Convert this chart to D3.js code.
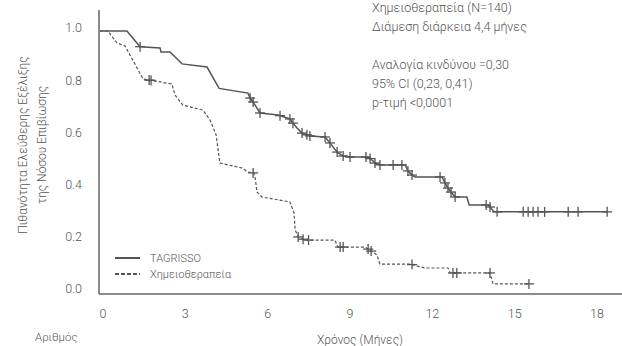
<!DOCTYPE html>
<html>
<head>
<meta charset="utf-8">
<script src="https://cdn.jsdelivr.net/npm/d3@7"></script>
<style>
  body { margin: 0; background: #fff; }
  svg text { font-family: Roboto, "Open Sans", sans-serif; font-weight: 300; fill: #555; }
</style>
</head>
<body>
<div id="chart"></div>
<script>
// Kaplan-Meier curves: [months, probability]
var tagrissoCurve = [[0,1],[0.98,1],[1.46,0.94],[2.19,0.935],[2.22,0.92],[2.55,0.92],[2.99,0.874],[3.9,0.862],
  [4.34,0.78],[5.39,0.762],[5.47,0.743],[5.58,0.728],[5.83,0.686],[6.49,0.678],[6.92,0.663],[7.03,0.647],
  [7.18,0.628],[7.36,0.609],[7.65,0.598],[8.2,0.594],[8.38,0.571],[8.49,0.556],[8.64,0.536],[8.86,0.521],
  [9.11,0.517],[9.77,0.517],[9.95,0.502],[10.02,0.494],[10.2,0.487],[11.12,0.487],[11.22,0.464],[11.37,0.448],
  [11.48,0.441],[12.46,0.441],[12.57,0.418],[12.68,0.398],[12.79,0.383],[12.94,0.364],[13.37,0.364],
  [13.45,0.333],[14.15,0.333],[14.36,0.307],[18.48,0.307]];
var tagrissoCensored = [1.46,5.47,5.58,5.83,6.56,6.92,7.03,7.36,7.54,7.65,8.2,8.38,8.64,8.86,9.11,9.69,9.84,
  10.02,10.2,10.68,11.0,11.22,11.37,12.39,12.57,12.68,12.79,12.94,14.07,14.21,14.47,15.42,15.6,15.78,15.96,
  16.2,17.06,17.42,18.48];

var chemoCurve = [[0,1],[0.29,1],[0.62,0.954],[0.91,0.943],[1.57,0.816],[2.62,0.797],[2.73,0.755],[3.02,0.716],
  [3.75,0.697],[4.01,0.659],[4.23,0.602],[4.37,0.494],[5.17,0.475],[5.39,0.46],[5.6,0.456],[5.65,0.441],
  [5.72,0.383],[5.9,0.364],[6.92,0.345],[7.07,0.303],[7.11,0.238],[7.22,0.211],[7.47,0.199],[8.56,0.199],
  [8.67,0.172],[9.66,0.172],[10.09,0.142],[10.2,0.107],[11.3,0.107],[11.84,0.092],[12.68,0.092],[12.76,0.073],
  [14.21,0.073],[14.32,0.031],[15.63,0.031]];
var chemoCensored = [1.79,1.86,5.58,7.22,7.4,7.6,8.75,8.86,9.77,9.88,11.37,12.86,13.0,14.21,15.63];

var xTicks = [0, 3, 6, 9, 12, 15, 18];
var yTicks = [0, 0.2, 0.4, 0.6, 0.8, 1.0];
var statsLines = ['Χημειοθεραπεία (N=140)', 'Διάμεση διάρκεια 4,4 μήνες', '',
  'Αναλογία κινδύνου =0,30', '95% CI (0,23, 0,41)', 'p-τιμή <0,0001'];
var legendItems = ['TAGRISSO', 'Χημειοθεραπεία'];

var width = 622, height = 346;
var svg = d3.select('#chart').append('svg')
    .attr('width', width)
    .attr('height', height);

var x = d3.scaleLinear().domain([0, 18]).range([100, 594]);
var y = d3.scaleLinear().domain([0, 1]).range([292, 31]);

// axes lines
svg.append('line').attr('x1', 99).attr('x2', 99).attr('y1', 10).attr('y2', 294)
    .attr('stroke', '#666').attr('stroke-width', 1.5);
svg.append('line').attr('x1', 99).attr('x2', width).attr('y1', 294).attr('y2', 294)
    .attr('stroke', '#666').attr('stroke-width', 1.5);

svg.selectAll('.ytick').data(yTicks).enter().append('text')
    .attr('class', 'ytick')
    .attr('x', 82)
    .attr('y', function(d){ return y(d) - 3; })
    .attr('dy', '0.35em')
    .attr('text-anchor', 'end')
    .style('font-size', '12.5px')
    .text(function(d){ return d.toFixed(1); });

svg.selectAll('.xtick').data(xTicks).enter().append('text')
    .attr('class', 'xtick')
    .attr('x', function(d){ return x(d) + 3; })
    .attr('y', 314)
    .attr('dy', '0.35em')
    .attr('text-anchor', 'middle')
    .style('font-size', '12.5px')
    .text(function(d){ return d; });

svg.append('text')
    .attr('x', 360).attr('y', 340).attr('dy', '0.35em')
    .attr('text-anchor', 'middle')
    .style('font-size', '12px')
    .text('Χρόνος (Μήνες)');

// row label of the numbers-at-risk table, kept just inside the bottom edge
svg.append('text')
    .attr('x', 35).attr('y', 341)
    .style('font-size', '11.5px')
    .text('Αριθμός');

var ylab = svg.append('text')
    .attr('transform', 'translate(23,145) rotate(-90)')
    .attr('text-anchor', 'middle')
    .style('font-size', '12px');
ylab.append('tspan').attr('x', 0).attr('dy', '0.35em').text('Πιθανότητα Ελεύθερης Εξέλιξης');
ylab.append('tspan').attr('x', 0).attr('dy', '1.6em').text('της Νόσου Επιβίωσης');

// stats block top right
svg.selectAll('.stat').data(statsLines).enter().append('text')
    .attr('class', 'stat')
    .attr('x', 372)
    .attr('y', function(d, i){ return 8 + i * 19; })
    .attr('dy', '0.35em')
    .style('font-size', '12.5px')
    .text(function(d){ return d; });

var line = d3.line()
    .x(function(d){ return x(d[0]); })
    .y(function(d){ return y(d[1]); });

// value on the drawn curve at time t, for the censor marks
function valueAt(curve, t){
    for(var i = 0; i < curve.length - 1; i++){
        var a = curve[i], b = curve[i + 1];
        if(t >= a[0] && t <= b[0]){
            if(b[0] === a[0]) return b[1];
            return a[1] + (b[1] - a[1]) * (t - a[0]) / (b[0] - a[0]);
        }
    }
    return curve[curve.length - 1][1];
}

function drawCurve(curve, censored, dash, sw){
    svg.append('path')
        .datum(curve)
        .attr('d', line)
        .attr('fill', 'none')
        .attr('stroke', '#555')
        .attr('stroke-width', sw)
        .attr('stroke-dasharray', dash);

    var marks = svg.append('g').selectAll('g')
        .data(censored)
        .enter()
        .append('g')
        .attr('transform', function(t){
            return 'translate(' + x(t) + ',' + y(valueAt(curve, t)) + ')';
        });
    marks.append('line').attr('x1', -5).attr('x2', 5)
        .attr('stroke', '#555').attr('stroke-width', 1.3);
    marks.append('line').attr('y1', -5).attr('y2', 5)
        .attr('stroke', '#555').attr('stroke-width', 1.3);
}

drawCurve(tagrissoCurve, tagrissoCensored, null, 1.5);
drawCurve(chemoCurve, chemoCensored, '3,2', 1.2);

// legend
var legend = svg.append('g');
legend.selectAll('line').data(legendItems).enter().append('line')
    .attr('x1', 115).attr('x2', 140)
    .attr('y1', function(d, i){ return 258 + i * 16; })
    .attr('y2', function(d, i){ return 258 + i * 16; })
    .attr('stroke', '#555')
    .attr('stroke-width', function(d, i){ return i === 0 ? 2 : 1.8; })
    .attr('stroke-dasharray', function(d, i){ return i === 0 ? null : '4,2'; });
legend.selectAll('text').data(legendItems).enter().append('text')
    .attr('x', 150)
    .attr('y', function(d, i){ return 258 + i * 16; })
    .attr('dy', '0.35em')
    .style('font-size', '11px')
    .text(function(d){ return d; });
</script>
</body>
</html>
